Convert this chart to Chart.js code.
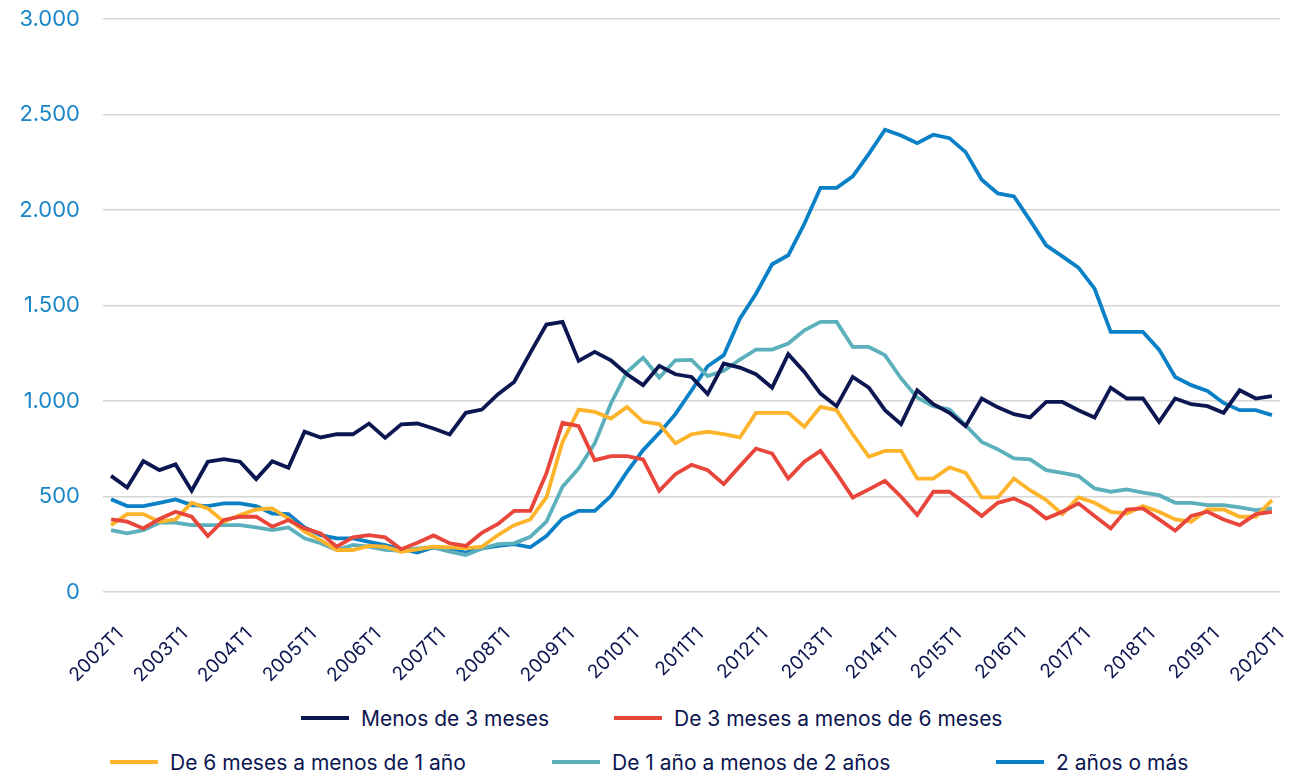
<!doctype html>
<html lang="es">
<head>
<meta charset="utf-8">
<script src="https://cdn.jsdelivr.net/npm/chart.js@4.4.1/dist/chart.umd.min.js"></script>
<title>Duración</title>
<style>
  body { margin: 0; background: #fff; font-family: Inter, "Noto Sans", sans-serif; }
  #wrap { position: relative; width: 1292px; height: 776px; overflow: hidden; }
  #grafica { position: absolute; left: 0; top: 0; }
  .item { position: absolute; display: flex; align-items: center; height: 28px; font-size: 21px; color: #0c1650; white-space: nowrap; }
  .item span.linea { display: inline-block; width: 48px; height: 4px; margin-right: 12px; }
</style>
</head>
<body>
<div id="wrap">
  <canvas id="grafica" width="1292" height="682"></canvas>
</div>

<script>
  // trimestres 2002T1 .. 2020T1
  const anios = [2002,2003,2004,2005,2006,2007,2008,2009,2010,2011,2012,2013,2014,2015,2016,2017,2018,2019];
  const trimestres = [];
  anios.forEach(a => { for (let t = 1; t <= 4; t++) trimestres.push(a + 'T' + t); });
  trimestres.push('2020T1');

  const menos3 = [608,547,685,638,668,530,682,696,682,591,685,650,839,809,826,826,882,807,878,
    882,856,825,938,955,1036,1100,1252,1400,1414,1210,1257,1213,1140,1083,1184,1140,1126,
    1036,1196,1175,1140,1070,1245,1152,1039,973,1126,1070,952,879,1056,983,938,868,1013,967,
    931,914,995,995,952,914,1070,1013,1013,891,1013,983,973,938,1056,1013,1025];

  const de3a6 = [380,368,333,382,420,394,293,377,394,394,342,377,333,307,237,286,298,286,224,
    258,296,255,241,310,356,425,425,621,886,868,690,711,711,694,530,617,666,
    638,565,659,751,725,594,682,739,621,495,537,582,499,403,525,525,464,398,467,
    490,450,385,420,464,398,333,432,438,380,321,398,420,380,350,408,420];

  const de6a12 = [350,408,408,368,380,467,438,368,403,432,438,385,316,272,220,220,241,237,211,
    223,237,234,228,237,298,350,380,495,786,955,943,908,969,891,879,778,826,
    839,826,809,938,938,938,865,969,952,826,708,739,739,594,594,652,624,495,495,
    594,533,481,408,495,467,420,411,450,420,380,368,432,432,394,394,481];

  const de1a2 = [324,307,324,363,363,350,350,350,350,338,324,338,281,255,220,246,237,220,215,
    228,234,211,194,228,251,255,289,368,551,647,778,987,1152,1227,1123,1213,1215,
    1130,1158,1217,1269,1269,1301,1370,1414,1414,1283,1283,1240,1118,1018,973,955,873,786,747,
    699,694,638,624,607,542,525,537,520,507,467,467,455,455,443,429,438];

  const masDe2 = [485,450,450,467,485,455,450,464,464,450,411,408,338,298,281,281,263,246,225,
    206,234,220,206,228,241,251,234,293,385,425,425,502,629,743,833,931,1055,
    1182,1240,1431,1562,1716,1763,1928,2116,2116,2176,2294,2420,2390,2350,2394,2376,2303,2158,2087,
    2071,1946,1815,1757,1698,1588,1362,1362,1362,1269,1126,1083,1053,990,952,952,926];

  const nombres = ['Menos de 3 meses','De 3 meses a menos de 6 meses','De 6 meses a menos de 1 año','De 1 año a menos de 2 años','2 años o más'];
  const colores = ['#0c1650','#e8463b','#fdb32a','#5bb0bc','#0a80c6'];
  const series = [menos3, de3a6, de6a12, de1a2, masDe2];

  // leyenda en html (dos filas como en el original)
  const posLeyenda = [[301,704],[614,704],[110,748],[552,748],[996,748]];
  const wrap = document.getElementById('wrap');
  nombres.forEach((n, i) => {
    let d = document.createElement('div');
    d.className = 'item';
    d.style.left = posLeyenda[i][0] + 'px';
    d.style.top = posLeyenda[i][1] + 'px';
    d.innerHTML = '<span class="linea" style="background:' + colores[i] + '"></span>' + n;
    wrap.append(d);
  });

  const miles = v => String(v).replace(/\B(?=(\d{3})+(?!\d))/g, '.');

  let ctx = document.getElementById('grafica').getContext('2d');
  new Chart(ctx, {
    type: 'line',
    data: {
      labels: trimestres,
      datasets: series.map((s, i) => ({
        label: nombres[i],
        data: s,
        borderColor: colores[i],
        backgroundColor: colores[i],
        borderWidth: 3.8,
        pointRadius: 0,
        tension: 0,
        fill: false
      }))
    },
    options: {
      responsive: false,
      animation: false,
      devicePixelRatio: 1,
      layout: { padding: { top: 19, right: 12, left: 0, bottom: 0 } },
      plugins: { legend: { display: false }, tooltip: { enabled: false } },
      scales: {
        x: {
          offset: true,
          grid: { display: false },
          border: { display: false },
          ticks: {
            autoSkip: false,
            minRotation: 45,
            maxRotation: 45,
            labelOffset: 9,
            padding: 23,
            color: '#0c1650',
            font: { family: 'Inter', size: 19 },
            callback: (v, i) => i % 4 === 0 ? trimestres[i] : ''
          },
          afterFit: s => { s.height = 90; s.paddingLeft = 0; s.paddingRight = 0; }
        },
        y: {
          min: 0,
          max: 3000,
          grid: { color: '#d6d6d6', lineWidth: 1.5, drawTicks: false },
          border: { display: false },
          ticks: {
            stepSize: 500,
            padding: 23,
            color: '#1a86c8',
            font: { family: 'Inter', size: 22 },
            callback: v => miles(v)
          },
          afterFit: s => { s.width = 103; s.paddingTop = 0; s.paddingBottom = 0; }
        }
      }
    }
  });
</script>
</body>
</html>
